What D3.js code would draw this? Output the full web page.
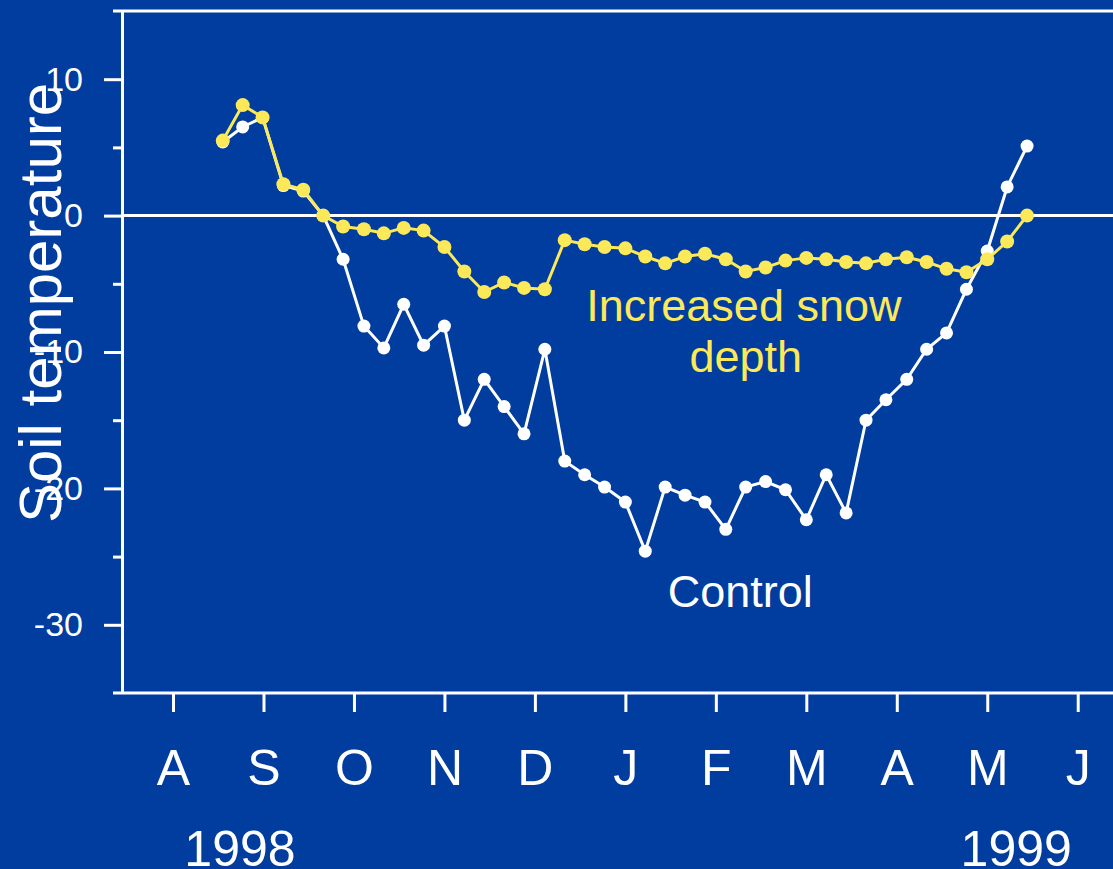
<!DOCTYPE html>
<html lang="en">
<head>
    <meta charset="UTF-8">
    <title>Soil temperature - control vs increased snow depth</title>
    <script src="https://d3js.org/d3.v7.min.js"></script>
    <style>
        body {
            margin: 0;
            padding: 0;
            background-color: #003d9e;
            overflow: hidden;
        }
        svg text {
            font-family: "Liberation Sans", Arial, sans-serif;
            fill: #fff;
        }
        .axis path, .axis line {
            stroke: #fff;
            stroke-width: 3px;
        }
    </style>
</head>
<body>
    <div id="chart"></div>

    <script>
    // Sampling times, in months after 1 Aug 1998 (A=0 ... J=10)
    const sampleMonths = [0.55, 0.77, 0.99, 1.22, 1.44, 1.66, 1.88, 2.11, 2.33, 2.55,
                          2.77, 3.00, 3.22, 3.44, 3.66, 3.88, 4.11, 4.33, 4.55, 4.77,
                          5.00, 5.22, 5.44, 5.66, 5.88, 6.11, 6.33, 6.55, 6.77, 7.00,
                          7.22, 7.44, 7.66, 7.88, 8.11, 8.33, 8.55, 8.77, 9.00, 9.22, 9.44];

    // Soil temperature, control plots
    const control = [5.4, 6.5, 7.2, 2.2, 1.8, 0.0, -3.2, -8.1, -9.7, -6.5,
                     -9.5, -8.1, -15.0, -12.0, -14.0, -16.0, -9.8, -18.0, -19.0, -19.9,
                     -21.0, -24.6, -19.9, -20.5, -21.0, -23.0, -19.9, -19.5, -20.1, -22.3,
                     -19.0, -21.8, -15.0, -13.5, -12.0, -9.8, -8.6, -5.4, -2.6, 2.1, 5.1];

    // Soil temperature, increased snow depth plots
    const snow = [5.5, 8.1, 7.2, 2.3, 1.9, 0.0, -0.8, -1.0, -1.3, -0.9,
                  -1.1, -2.3, -4.1, -5.6, -4.9, -5.3, -5.4, -1.8, -2.1, -2.3,
                  -2.4, -3.0, -3.5, -3.0, -2.8, -3.2, -4.1, -3.8, -3.3, -3.1,
                  -3.2, -3.4, -3.5, -3.2, -3.05, -3.4, -3.9, -4.15, -3.2, -1.9, 0.0];

    const monthLabels = ["A", "S", "O", "N", "D", "J", "F", "M", "A", "M", "J"];
    const majorTicks = [-30, -20, -10, 0, 10];
    const minorTicks = [-25, -15, -5, 5];

    const width = 1113, height = 869;
    const margin = {top: 11, right: 0, bottom: 176, left: 122};
    const innerW = width - margin.left - margin.right,
          innerH = height - margin.top - margin.bottom;

    const svg = d3.select("#chart").append("svg")
        .attr("width", width)
        .attr("height", height);

    svg.append("rect")
        .attr("width", width)
        .attr("height", height)
        .attr("fill", "#003d9e");

    const g = svg.append("g")
        .attr("transform", `translate(${margin.left},${margin.top})`);

    // Scales
    const x = d3.scaleLinear().domain([-0.564, 10.39]).range([0, innerW]);
    const y = d3.scaleLinear().domain([-35, 15]).range([innerH, 0]);

    // Frame line at the top (starts a bit left of the y axis)
    g.append("line")
        .attr("x1", -9).attr("x2", innerW)
        .attr("y1", 0).attr("y2", 0)
        .attr("stroke", "#fff").attr("stroke-width", 3);

    // Y axis: major ticks with labels, minor ticks without
    const yAxis = g.append("g")
        .attr("class", "axis")
        .call(d3.axisLeft(y).tickValues(majorTicks).tickSize(18).tickSizeOuter(0)
            .tickFormat(d => String(d)));
    yAxis.selectAll("text")
        .attr("x", -39)
        .style("font-size", "34px");

    g.append("g")
        .attr("class", "axis")
        .call(d3.axisLeft(y).tickValues(minorTicks).tickSize(9).tickFormat(""))
        .select(".domain").remove();

    // X axis: months
    const xAxis = g.append("g")
        .attr("class", "axis")
        .attr("transform", `translate(0,${innerH})`)
        .call(d3.axisBottom(x).tickValues(d3.range(monthLabels.length)).tickSize(19)
            .tickSizeOuter(0).tickFormat(i => monthLabels[i]));
    xAxis.select(".domain").remove();
    xAxis.selectAll("text")
        .attr("y", 92)
        .attr("dy", 0)
        .style("font-size", "50px");

    g.append("line")
        .attr("x1", -9).attr("x2", innerW)
        .attr("y1", innerH).attr("y2", innerH)
        .attr("stroke", "#fff").attr("stroke-width", 3);

    // Year labels (cut by the bottom edge, as in the original)
    g.append("text")
        .attr("x", x(0.74)).attr("y", innerH + 173)
        .attr("text-anchor", "middle")
        .style("font-size", "50px")
        .text("1998");
    g.append("text")
        .attr("x", x(9.32)).attr("y", innerH + 173)
        .attr("text-anchor", "middle")
        .style("font-size", "50px")
        .text("1999");

    // Zero line
    g.append("line")
        .attr("x1", 0).attr("x2", innerW)
        .attr("y1", y(0)).attr("y2", y(0))
        .attr("stroke", "#fff").attr("stroke-width", 3);

    // Series
    const series = [
        {name: "Control", values: control, color: "#ffffff", r: 6.5},
        {name: "Increased snow depth", values: snow, color: "#fbe95a", r: 7}
    ];

    const line = d3.line()
        .x((d, i) => x(sampleMonths[i]))
        .y(d => y(d));

    series.forEach(s => {
        g.append("path")
            .datum(s.values)
            .attr("fill", "none")
            .attr("stroke", s.color)
            .attr("stroke-width", 3)
            .attr("d", line);

        g.selectAll(null)
            .data(s.values)
            .enter().append("circle")
            .attr("cx", (d, i) => x(sampleMonths[i]))
            .attr("cy", d => y(d))
            .attr("r", s.r)
            .attr("fill", s.color);
    });

    // Annotations
    const snowLabel = g.append("text")
        .attr("text-anchor", "middle")
        .style("font-size", "45px")
        .style("fill", "#fbe95a");
    snowLabel.append("tspan")
        .attr("x", x(6.31)).attr("y", y(-7.74))
        .text("Increased snow");
    snowLabel.append("tspan")
        .attr("x", x(6.33)).attr("y", y(-11.48))
        .text("depth");

    g.append("text")
        .attr("x", x(6.27)).attr("y", y(-28.7))
        .attr("text-anchor", "middle")
        .style("font-size", "45px")
        .text("Control");

    // Y axis title (drawn over the tick labels, as in the original)
    svg.append("text")
        .attr("transform", "translate(61,303) rotate(-90)")
        .attr("text-anchor", "middle")
        .style("font-size", "60px")
        .text("Soil temperature");
    </script>
</body>
</html>
